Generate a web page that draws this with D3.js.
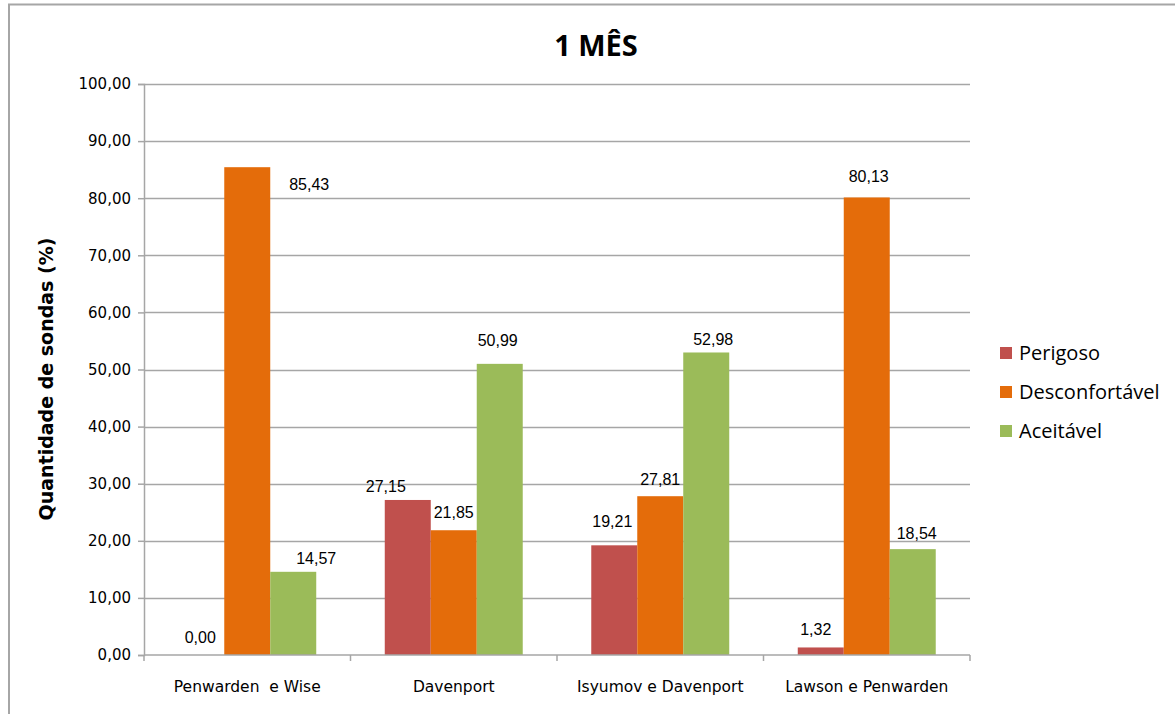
<!DOCTYPE html>
<html>
<head>
<meta charset="utf-8">
<script src="https://cdn.jsdelivr.net/npm/d3@7"></script>
<style>
  html, body { margin: 0; padding: 0; background: #fff; }
  svg { display: block; }
</style>
</head>
<body>
<svg id="chart" width="1175" height="714"></svg>
<script>
// Categories (sites / criteria authors)
const categories = ["Penwarden  e Wise", "Davenport", "Isyumov e Davenport", "Lawson e Penwarden"];
// Comfort classes
const seriesNames = ["Perigoso", "Desconfortável", "Aceitável"];
const seriesColors = ["#c0504d", "#e46c0a", "#9bbb59"];
// Percent of probes per class, one array per class, in category order
const perigoso = [0.00, 27.15, 19.21, 1.32];
const desconfortavel = [85.43, 21.85, 27.81, 80.13];
const aceitavel = [14.57, 50.99, 52.98, 18.54];
const seriesValues = [perigoso, desconfortavel, aceitavel];
// Y axis ticks
const yTicks = [0, 10, 20, 30, 40, 50, 60, 70, 80, 90, 100];

// Label nudges [series][category] in px, to keep labels clear of neighbours
const labelNudge = [
  [[-1, -4], [-22, 0], [-2, -10], [-5, -4]],
  [[62, 31], [0, -4], [0, -3], [2, -7]],
  [[23, 0], [-2, -10], [7, 1], [4, -2]]
];

const svg = d3.select("#chart");
const fmt = v => v.toFixed(2).replace(".", ",");

// Outer frame
svg.append("rect")
  .attr("x", 9).attr("y", 4.5)
  .attr("width", 1200).attr("height", 760)
  .attr("fill", "none").attr("stroke", "#a6a6a6").attr("stroke-width", 2);

const plot = { left: 144, right: 970, top: 84, bottom: 655 };

const x0 = d3.scaleBand().domain(categories).range([plot.left, plot.right]).paddingInner(0).paddingOuter(0);
const x1 = d3.scaleBand().domain(d3.range(seriesNames.length))
  .range([0, x0.bandwidth()]).paddingInner(0).paddingOuter(0.745);
const y = d3.scaleLinear().domain([0, 100]).range([plot.bottom, plot.top]);

// Gridlines
svg.append("g")
  .selectAll("line").data(yTicks.filter(t => t > 0)).join("line")
  .attr("x1", plot.left).attr("x2", plot.right)
  .attr("y1", d => Math.round(y(d)) + 0.5).attr("y2", d => Math.round(y(d)) + 0.5)
  .attr("stroke", "#a6a6a6").attr("stroke-width", 1.3);

// Bars
const groups = svg.append("g").selectAll("g").data(categories).join("g")
  .attr("transform", d => `translate(${x0(d)},0)`);

groups.selectAll("rect")
  .data((c, ci) => seriesValues.map((vals, si) => ({ si, ci, v: vals[ci] })))
  .join("rect")
  .attr("x", d => x1(d.si))
  .attr("width", x1.bandwidth())
  .attr("y", d => y(d.v))
  .attr("height", d => y(0) - y(d.v))
  .attr("fill", d => seriesColors[d.si]);

// Value labels
groups.selectAll("text")
  .data((c, ci) => seriesValues.map((vals, si) => ({ si, ci, v: vals[ci] })))
  .join("text")
  .attr("x", d => x1(d.si) + x1.bandwidth() / 2 + labelNudge[d.si][d.ci][0])
  .attr("y", d => y(d.v) - 8 + labelNudge[d.si][d.ci][1])
  .attr("text-anchor", "middle")
  .attr("font-family", "'Liberation Sans', Arial, sans-serif")
  .attr("font-size", 16)
  .attr("fill", "#000")
  .text(d => fmt(d.v));

// Y axis
const yAxis = svg.append("g")
  .attr("transform", `translate(${plot.left},0)`)
  .call(d3.axisLeft(y).tickValues(yTicks).tickSize(6).tickPadding(7).tickFormat(fmt));
yAxis.selectAll("path, line").attr("stroke", "#a6a6a6").attr("stroke-width", 1.5);
yAxis.selectAll("text")
  .attr("font-family", "'DejaVu Sans', Tahoma, sans-serif")
  .attr("font-size", 15).attr("fill", "#000");

// X axis
const xAxis = svg.append("g")
  .attr("transform", `translate(0,${plot.bottom})`)
  .call(d3.axisBottom(x0).tickSize(0).tickPadding(26));
xAxis.select("path").attr("stroke", "#a6a6a6").attr("stroke-width", 1.5).attr("d", `M${plot.left},0H${plot.right}`);
xAxis.selectAll("text")
  .attr("font-family", "'DejaVu Sans', Tahoma, sans-serif")
  .attr("font-size", 15.5).attr("fill", "#000")
  .style("white-space", "pre");
// Category separator ticks
xAxis.append("g").selectAll("line")
  .data(categories.map(c => x0(c)).concat([plot.right]))
  .join("line")
  .attr("x1", d => d).attr("x2", d => d).attr("y1", 0).attr("y2", 6)
  .attr("stroke", "#a6a6a6").attr("stroke-width", 1.5);

// Title
svg.append("text")
  .attr("x", 596).attr("y", 56)
  .attr("text-anchor", "middle")
  .attr("font-family", "'Open Sans', 'Noto Sans', sans-serif")
  .attr("font-weight", "bold").attr("font-size", 29)
  .text("1 MÊS");

// Y axis title
svg.append("text")
  .attr("transform", "translate(53,379) rotate(-90)")
  .attr("text-anchor", "middle")
  .attr("font-family", "'DejaVu Sans', Tahoma, sans-serif")
  .attr("font-weight", "bold").attr("font-size", 19)
  .text("Quantidade de sondas (%)");

// Legend
const legend = svg.append("g").selectAll("g").data(seriesNames).join("g")
  .attr("transform", (d, i) => `translate(1000,${353 + i * 39})`);
legend.append("rect")
  .attr("x", 0).attr("y", -6).attr("width", 12).attr("height", 12)
  .attr("fill", (d, i) => seriesColors[i]);
legend.append("text")
  .attr("x", 19).attr("y", 7)
  .attr("font-family", "'Open Sans', 'Noto Sans', sans-serif")
  .attr("font-size", 20).attr("fill", "#000")
  .text(d => d);
</script>
</body>
</html>
